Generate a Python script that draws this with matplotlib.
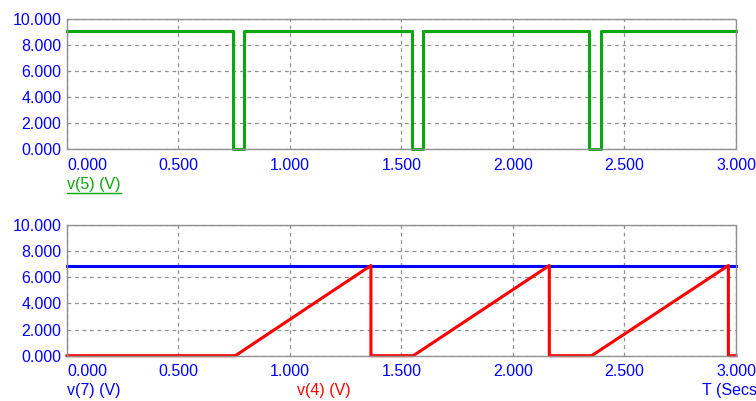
import matplotlib
matplotlib.use("Agg")
from matplotlib import pyplot as plt  # noqa: E402
from matplotlib.lines import Line2D  # noqa: E402

# v(5): comparator output pulses
v5_t = [0.0, 0.746, 0.746, 0.795, 0.795, 1.546, 1.546, 1.595, 1.595,
        2.341, 2.341, 2.395, 2.395, 3.0]
v5_v = [9.1, 9.1, 0.0, 0.0, 9.1, 9.1, 0.0, 0.0, 9.1,
        9.1, 0.0, 0.0, 9.1, 9.1]

# v(7): reference level
v7_t = [0.0, 3.0]
v7_v = [6.9, 6.9]

# v(4): ramp
v4_t = [0.0, 0.755, 1.363, 1.363, 1.553, 2.163, 2.163, 2.353, 2.966, 2.966, 3.0]
v4_v = [0.0, 0.0, 6.9, 0.0, 0.0, 6.9, 0.0, 0.0, 6.9, 0.0, 0.0]

x_ticks = [0.0, 0.5, 1.0, 1.5, 2.0, 2.5, 3.0]
y_ticks = [0.0, 2.0, 4.0, 6.0, 8.0, 10.0]

BLUE = "#0000ff"
GREEN = "#0aa80a"
RED = "#ff0000"
FS = 11.5

plt.rcParams["font.family"] = ["Liberation Sans", "DejaVu Sans"]

fig = plt.figure(figsize=(7.56, 4.01), dpi=100)
ax_top = fig.add_axes([0.0886, 0.6272, 0.8849, 0.3254])
ax_bot = fig.add_axes([0.0886, 0.1130, 0.8849, 0.3259])


def style_axis(axis):
    axis.set_xlim(0, 3.0)
    axis.set_ylim(0, 10.0)
    axis.set_xticks(x_ticks)
    axis.set_yticks(y_ticks)
    axis.set_xticklabels([f"{t:.3f}" for t in x_ticks])
    axis.set_yticklabels([f"{t:.3f}" for t in y_ticks])
    axis.tick_params(length=0, colors=BLUE, labelsize=FS, pad=4)
    axis.tick_params(axis="x", pad=6)
    axis.xaxis.get_majorticklabels()[0].set_horizontalalignment("left")
    axis.grid(True, color="#909090", linestyle=(0, (3, 3)), linewidth=0.9)
    for spine in axis.spines.values():
        spine.set_color("#909090")
        spine.set_linestyle((0, (1, 1)))
        spine.set_linewidth(1.0)
    axis.set_axisbelow(True)


style_axis(ax_top)
style_axis(ax_bot)

ax_top.plot(v5_t, v5_v, color=GREEN, linewidth=2.2, clip_on=False)
ax_bot.plot(v7_t, v7_v, color=BLUE, linewidth=2.2, clip_on=False)
ax_bot.plot(v4_t, v4_v, color=RED, linewidth=2.2, clip_on=False)

lbl5 = fig.text(67 / 756, 1 - 189 / 401, "v(5) (V)", color=GREEN,
                fontsize=FS, ha="left", va="baseline")
fig.text(67 / 756, 1 - 395 / 401, "v(7) (V)", color=BLUE,
         fontsize=FS, ha="left", va="baseline")
fig.text(297 / 756, 1 - 395 / 401, "v(4) (V)", color=RED,
         fontsize=FS, ha="left", va="baseline")
fig.text(702 / 756, 1 - 395 / 401, "T (Secs)", color=BLUE,
         fontsize=FS, ha="left", va="baseline")

# underline under the v(5) label
fig.canvas.draw()
bb = lbl5.get_window_extent().transformed(fig.transFigure.inverted())
fig.add_artist(Line2D([bb.x0, bb.x1], [bb.y0 - 0.003, bb.y0 - 0.003],
                      transform=fig.transFigure, color=GREEN, linewidth=1.0))

fig.savefig("out.png", dpi=100)
